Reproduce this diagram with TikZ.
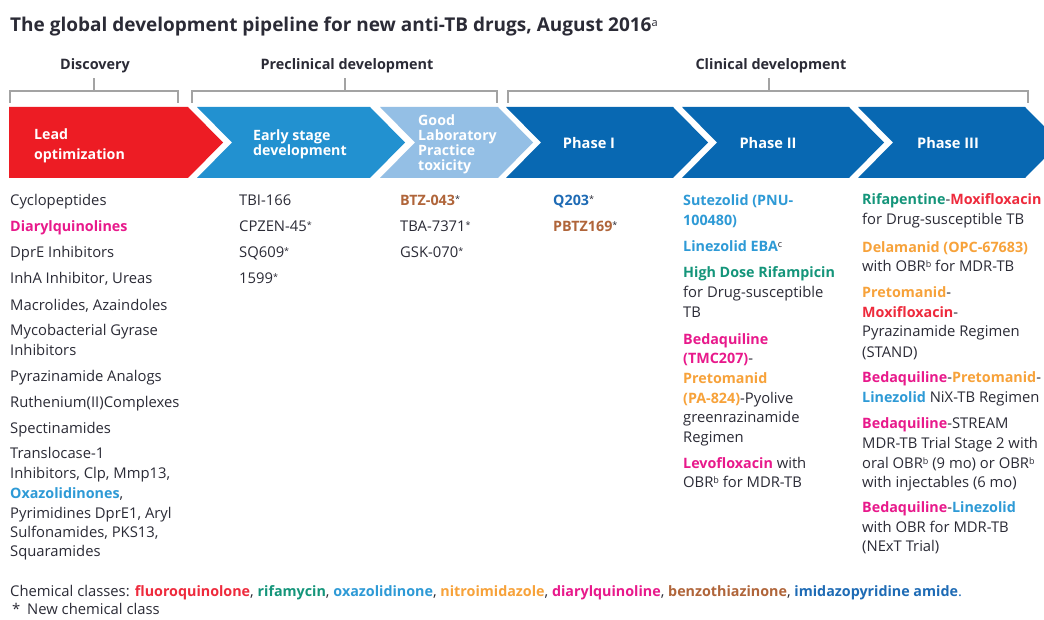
\documentclass[tikz,border=0pt]{standalone}
\usepackage{fontspec}
\setmainfont{Open Sans}
\definecolor{txt}{HTML}{2B2B36}
\definecolor{fq}{HTML}{EE2A3C}
\definecolor{rif}{HTML}{14957A}
\definecolor{oxa}{HTML}{2E9AD6}
\definecolor{nitro}{HTML}{F7A23A}
\definecolor{diaryl}{HTML}{E8198B}
\definecolor{btz}{HTML}{B0653A}
\definecolor{imid}{HTML}{1E6BB5}
\definecolor{cRed}{HTML}{ED1C24}
\definecolor{cBlue}{HTML}{2291D0}
\definecolor{cLight}{HTML}{94BFE5}
\definecolor{cDark}{HTML}{0868B2}
\definecolor{brk}{HTML}{A3A3A3}
% bold drug names, coloured by chemical class
\newcommand{\bfd}[2]{{\fontsize{14.3}{20}\selectfont\bfseries\color{#1}#2}}
\newcommand{\FQ}[1]{\bfd{fq}{#1}}
\newcommand{\RIF}[1]{\bfd{rif}{#1}}
\newcommand{\OXA}[1]{\bfd{oxa}{#1}}
\newcommand{\NIT}[1]{\bfd{nitro}{#1}}
\newcommand{\DIA}[1]{\bfd{diaryl}{#1}}
\newcommand{\BTZ}[1]{\bfd{btz}{#1}}
\newcommand{\IMD}[1]{\bfd{imid}{#1}}
% small raised asterisk marking a new chemical class
\newcommand{\nst}{\raisebox{3.5pt}{\fontsize{9}{9}\selectfont *}}
\newcommand{\sups}[1]{\raisebox{4pt}{\fontsize{9}{9}\selectfont #1}}
% chevron with a notch on the left: colour, left x, body end x
\newcommand{\chev}[3]{\fill[#1] (#2,107) -- (#3,107) -- ({#3+35},142.5) -- (#3,178) -- (#2,178) -- ({#2+35},142.5) -- cycle;}
\begin{document}
\begin{tikzpicture}[x=1pt,y=-1pt,
  ln/.style={anchor=base west,inner sep=0pt,font=\fontsize{14.8}{20}\selectfont,text=txt},
  hdr/.style={anchor=base,inner sep=0pt,font=\fontsize{14.4}{16}\selectfont\bfseries,text=txt},
  chv/.style={anchor=base west,inner sep=0pt,font=\fontsize{14.2}{15}\selectfont\bfseries,text=white},
  phs/.style={anchor=base,inner sep=0pt,font=\fontsize{14.6}{15}\selectfont\bfseries,text=white},
  brack/.style={draw=brk,line width=1.4pt}]
\useasboundingbox (0,0) rectangle (1044,620);
\fill[white] (0,0) rectangle (1044,620);

% title
\node[anchor=base west,inner sep=0pt,font=\fontsize{19}{22}\selectfont\bfseries,text=txt] (title) at (10,32)
  {The global development pipeline for new anti-TB drugs, August 2016\raisebox{5pt}{\fontsize{11}{11}\selectfont\mdseries a}};

% stage headers and brackets
\node[hdr] (hdisc) at (95,70) {Discovery};
\node[hdr] (hpre) at (347,70) {Preclinical development};
\node[hdr] (hclin) at (771,70) {Clinical development};
\draw[brack] (10,103) -- (10,91) -- (178,91) -- (178,103);
\draw[brack] (94,91) -- (94,78);
\draw[brack] (192,103) -- (192,91) -- (497,91) -- (497,103);
\draw[brack] (345,91) -- (345,78);
\draw[brack] (508,103) -- (508,91) -- (1028,91) -- (1028,103);
\draw[brack] (769,91) -- (769,78);

% pipeline chevrons
\fill[cRed] (9,107) -- (188,107) -- (223,142.5) -- (188,178) -- (9,178) -- cycle;
\chev{cBlue}{197}{370}
\chev{cLight}{380}{498}
\chev{cDark}{506}{673}
\chev{cDark}{682}{849}
\chev{cDark}{858}{1025}

\node[chv] (lead1) at (34,140) {Lead};
\node[chv] (lead2) at (34,160) {optimization};
\node[chv] (early1) at (253,141) {Early stage};
\node[chv] (early2) at (253,156) {development};
\node[chv] (glp1) at (418,126) {Good};
\node[chv] (glp2) at (418,141) {Laboratory};
\node[chv] (glp3) at (418,156) {Practice};
\node[chv] (glp4) at (418,171) {toxicity};
\node[phs] (ph1) at (589,149) {Phase I};
\node[phs] (ph2) at (768,149) {Phase II};
\node[phs] (ph3) at (948,149) {Phase III};

% discovery column
\node[ln] (d1) at (10,206) {Cyclopeptides};
\node[ln] (d2) at (10,232) {\DIA{Diarylquinolines}};
\node[ln] (d3) at (10,258) {DprE Inhibitors};
\node[ln] (d4) at (10,284) {InhA Inhibitor, Ureas};
\node[ln] (d5) at (10,310) {Macrolides, Azaindoles};
\node[ln] (d6) at (10,335) {Mycobacterial Gyrase};
\node[ln] (d6b) at (10,355) {Inhibitors};
\node[ln] (d7) at (10,381) {Pyrazinamide Analogs};
\node[ln] (d8) at (10,407) {Ruthenium(II)Complexes};
\node[ln] (d9) at (10,433) {Spectinamides};
\node[ln] (d10) at (10,458) {Translocase-1};
\node[ln] (d10b) at (10,478) {Inhibitors, Clp, Mmp13,};
\node[ln] (d10c) at (10,498) {\OXA{Oxazolidinones},};
\node[ln] (d10d) at (10,518) {Pyrimidines DprE1, Aryl};
\node[ln] (d10e) at (10,537) {Sulfonamides, PKS13,};
\node[ln] (d10f) at (10,556) {Squaramides};

% early stage column
\node[ln] (e1) at (239,206) {TBI-166};
\node[ln] (e2) at (239,232) {CPZEN-45\nst};
\node[ln] (e3) at (239,258) {SQ609\nst};
\node[ln] (e4) at (239,284) {1599\nst};

% GLP toxicity column
\node[ln] (g1) at (400,206) {\BTZ{BTZ-043}\nst};
\node[ln] (g2) at (400,232) {TBA-7371\nst};
\node[ln] (g3) at (400,258) {GSK-070\nst};

% phase I column
\node[ln] (p1a) at (553,206) {\IMD{Q203}\nst};
\node[ln] (p1b) at (553,232) {\BTZ{PBTZ169}\nst};

% phase II column
\node[ln] (p2a) at (683,206) {\OXA{Sutezolid (PNU-}};
\node[ln] (p2a2) at (683,226) {\OXA{100480)}};
\node[ln] (p2b) at (683,252) {\OXA{Linezolid EBA}\sups{c}};
\node[ln] (p2c) at (683,278) {\RIF{High Dose Rifampicin}};
\node[ln] (p2c2) at (683,298) {for Drug-susceptible};
\node[ln] (p2c3) at (683,318) {TB};
\node[ln] (p2d) at (683,344) {\DIA{Bedaquiline}};
\node[ln] (p2d2) at (683,363) {\DIA{(TMC207)}-};
\node[ln] (p2d3) at (683,383) {\NIT{Pretomanid}};
\node[ln] (p2d4) at (683,403) {\NIT{(PA-824)}-Pyolive};
\node[ln] (p2d5) at (683,422) {greenrazinamide};
\node[ln] (p2d6) at (683,442) {Regimen};
\node[ln] (p2e) at (683,468) {\DIA{Levofloxacin} with};
\node[ln] (p2e2) at (683,487) {OBR\sups{b} for MDR-TB};

% phase III column
\node[ln] (p3a) at (862,205) {\RIF{Rifapentine}-\FQ{Moxifloxacin}};
\node[ln] (p3a2) at (862,225) {for Drug-susceptible TB};
\node[ln] (p3b) at (862,253) {\NIT{Delamanid (OPC-67683)}};
\node[ln] (p3b2) at (862,272) {with OBR\sups{b} for MDR-TB};
\node[ln] (p3c) at (862,298) {\NIT{Pretomanid}-};
\node[ln] (p3c2) at (862,317) {\FQ{Moxifloxacin}-};
\node[ln] (p3c3) at (862,337) {Pyrazinamide Regimen};
\node[ln] (p3c4) at (862,357) {(STAND)};
\node[ln] (p3d) at (862,382) {\DIA{Bedaquiline}-\NIT{Pretomanid}-};
\node[ln] (p3d2) at (862,402) {\OXA{Linezolid} NiX-TB Regimen};
\node[ln] (p3e) at (862,428) {\DIA{Bedaquiline}-STREAM};
\node[ln] (p3e2) at (862,448) {MDR-TB Trial Stage 2 with};
\node[ln] (p3e3) at (862,468) {oral OBR\sups{b} (9 mo) or OBR\sups{b}};
\node[ln] (p3e4) at (862,487) {with injectables (6 mo)};
\node[ln] (p3f) at (862,512) {\DIA{Bedaquiline}-\OXA{Linezolid}};
\node[ln] (p3f2) at (862,532) {with OBR for MDR-TB};
\node[ln] (p3f3) at (862,551) {(NExT Trial)};

% key
\node[ln] (key) at (10,596) {Chemical classes: \FQ{fluoroquinolone}, \RIF{rifamycin}, \OXA{oxazolidinone}, \NIT{nitroimidazole}, \DIA{diarylquinoline}, \BTZ{benzothiazinone}, \IMD{imidazopyridine amide}\textcolor{imid}{.}};
\node[ln] (star) at (12,614) {*};
\node[ln] (newcls) at (27,614) {New chemical class};
\end{tikzpicture}
\end{document}
